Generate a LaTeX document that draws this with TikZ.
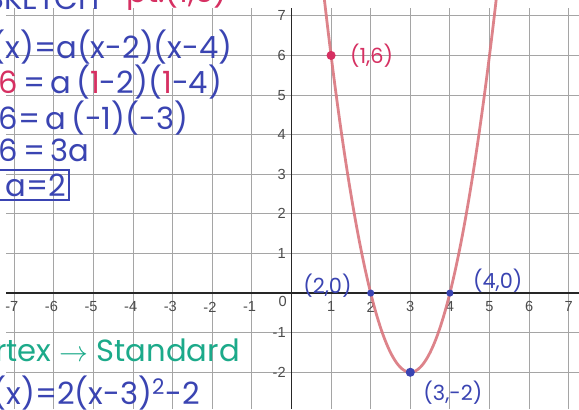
\documentclass[tikz,border=0pt]{standalone}
\usepackage{fontspec}
\setmainfont{Poppins}
\setsansfont{Liberation Sans}
\usetikzlibrary{positioning}
\definecolor{penblue}{RGB}{58,68,178}
\definecolor{penred}{RGB}{214,48,98}
\definecolor{pengreen}{RGB}{28,170,138}
\definecolor{curvecol}{RGB}{218,118,126}
\definecolor{gridcol}{RGB}{165,165,165}
\tikzset{
  hand/.style  = {font=\fontsize{22}{26}\selectfont, inner sep=0pt, text=penblue},
  small/.style = {font=\fontsize{15}{17}\selectfont, inner sep=0pt},
  tick/.style  = {font=\sffamily\fontsize{10.5}{12}\selectfont, text=black!70, inner sep=0pt},
  pt/.style    = {circle, fill, inner sep=0pt, minimum size=1.8mm},
  bigpt/.style = {circle, fill, inner sep=0pt, minimum size=2.3mm},
  axis/.style  = {line width=1.3pt, black!85},
}

\begin{document}
\begin{tikzpicture}[x=1cm, y=1cm]
  \useasboundingbox (-7.36,-2.93) rectangle (7.26,7.40);
  \clip (-7.36,-2.93) rectangle (7.26,7.40);
  \fill[white] (-7.36,-2.93) rectangle (7.26,7.40);

  % grid and axes
  \draw[gridcol, line width=0.6pt] (-7.2,-2.93) grid (7.26,7.2);
  \draw[axis] (-7.2,0) -- (7.26,0);
  \draw[axis] (0,-2.93) -- (0,7.2);
  \foreach \i in {-7,...,-1}
    \node[tick] at (\i-0.06,-0.35) {\i};
  \foreach \i in {1,...,7}
    \node[tick] at (\i,-0.35) {\i};
  \foreach \j in {-2,-1,1,2,...,7}
    \node[tick, anchor=east] at (-0.14,\j) {\j};
  \node[tick] at (-0.22,-0.2) {0};

  % parabola
  \draw[curvecol, line width=2pt, opacity=0.9, domain=0.78:5.22, samples=120]
    plot (\x,{2*(\x-3)^2-2});

  % points
  \node[bigpt, fill=penred]  (p16) at (1,6)  {};
  \node[pt, fill=penblue]    (p20) at (2,0)  {};
  \node[pt, fill=penblue]    (p40) at (4,0)  {};
  \node[bigpt, fill=penblue] (p32) at (3,-2) {};
  \node[small, text=penred, right=3.5mm of p16] (l16) {(1,6)};
  \node[small, text=penblue, left=3.8mm of p20, yshift=1.8mm] (l20) {(2,0)};
  \node[small, text=penblue, right=4.8mm of p40, yshift=3mm] (l40) {(4,0)};
  \node[small, text=penblue, below right=1.2mm and 2.4mm of p32] (l32) {(3,-2)};

  % handwriting
  \node[hand, anchor=south east] (sk) at (-4.84,7.14) {SKETCH};
  \node[hand, text=penred, anchor=south east] (pp) at (-1.6,7.14) {pt:(1,6)};
  \node[hand, anchor=east] (e1) at (-1.48,6.21) {f(x)=a(x-2)(x-4)};
  \node[hand, anchor=west] (e2) at (-7.40,5.33)
    {\textcolor{penred}{6}\,=\,a\,(\textcolor{penred}{1}-2)(\textcolor{penred}{1}-4)};
  \node[hand, anchor=west] (e3) at (-7.40,4.42) {6=\,a\,(-1)(-3)};
  \node[hand, anchor=west] (e4) at (-7.40,3.61) {6\,=\,3a};
  \node[hand, anchor=east, draw=penblue, line width=1.3pt, inner sep=2pt,
        minimum height=7.4mm] (e5) at (-5.59,2.73) {\,a=2};
  \node[hand, text=pengreen, anchor=east] (e6) at (-1.30,-1.44)
    {Vertex $\rightarrow$ Standard};
  \node[hand, anchor=east] (e7) at (-2.31,-2.53) {f(x)=2(x-3)\textsuperscript{2}-2};
\end{tikzpicture}
\end{document}
